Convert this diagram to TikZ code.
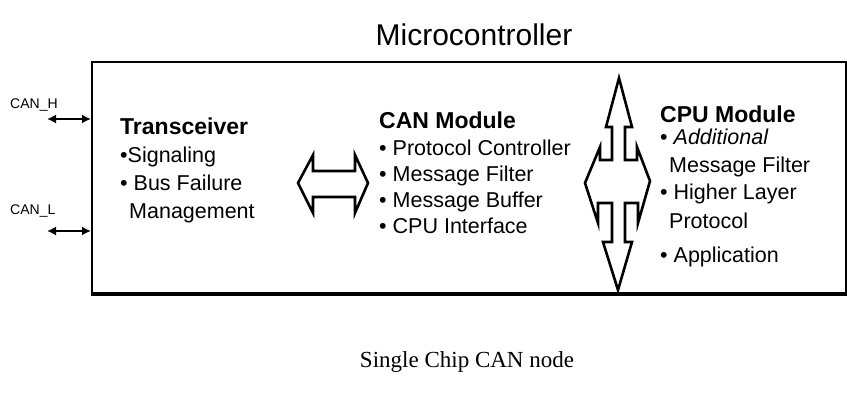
\documentclass[tikz,border=0pt]{standalone}
\usepackage{fontspec}
\setmainfont{Liberation Sans}
\newfontfamily\capfont{Liberation Serif}
\usetikzlibrary{arrows.meta}
\begin{document}
\begin{tikzpicture}[x=1pt,y=-1pt,
  txt/.style={anchor=base west, inner sep=0pt, font=\fontsize{21.5}{26}\selectfont},
  head/.style={anchor=base west, inner sep=0pt, font=\fontsize{23}{28}\selectfont\bfseries},
  sig/.style={anchor=base west, inner sep=0pt, font=\fontsize{14}{16}\selectfont},
  bus/.style={line width=2pt, {Latex[length=9pt,width=9pt]}-{Latex[length=9pt,width=9pt]}},
  fat/.style={line width=2.6pt, line join=miter, fill=white}]
\useasboundingbox (0,0) rectangle (847,392);

% title and caption
\node[inner sep=0pt, anchor=base, font=\fontsize{30}{36}\selectfont] (title) at (474,45) {Microcontroller};
\node[inner sep=0pt, anchor=base, font=\capfont\fontsize{23}{28}\selectfont] (caption) at (467,367) {Single Chip CAN node};

% chip outline with heavy bottom edge
\node[draw, line width=2pt, minimum width=754pt, minimum height=231pt, inner sep=0pt] (chip) at (469,177.5) {};
\draw[line width=4.5pt] (chip.south west) -- (chip.south east);

% bus lines
\node[sig] (canh) at (10,108) {CAN\_H};
\node[sig] (canl) at (10,214) {CAN\_L};
\coordinate (hend) at (47,119);
\coordinate (lend) at (47,231);
\draw[bus] (hend) -- (chip.west |- hend);
\draw[bus] (lend) -- (chip.west |- lend);

% transceiver
\node[head] (trx) at (120,134) {Transceiver};
\node[txt] (trx1) at (120,162) {•Signaling};
\node[txt] (trx2) at (120,190) {• Bus Failure};
\node[txt] (trx3) at (129,218) {Management};

% transceiver <-> CAN module
\draw[fat] (298,183) -- (313,155) -- (313,171) -- (355,171) -- (355,155) -- (368,183)
  -- (355,213) -- (355,197) -- (313,197) -- (313,213) -- cycle;

% CAN module
\node[head] (can) at (379,128) {CAN Module};
\node[txt] (can1) at (379,155) {• Protocol Controller};
\node[txt] (can2) at (379,181) {• Message Filter};
\node[txt] (can3) at (379,207) {• Message Buffer};
\node[txt] (can4) at (379,233) {• CPU Interface};

% CAN module <-> CPU module, and to the rest of the system
\draw[fat] (619,78) -- (632,127) -- (625,127) -- (625,160) -- (637,160) -- (637,147)
  -- (650,181) -- (638,223) -- (638,203) -- (625,203) -- (625,242) -- (632,242)
  -- (618,290) -- (603,242) -- (612,242) -- (612,203) -- (598,203) -- (598,223)
  -- (585,183) -- (600,147) -- (600,160) -- (612,160) -- (612,127) -- (606,127) -- cycle;

% CPU module
\node[head] (cpu) at (660,122) {CPU Module};
\node[txt] (cpu1) at (660,144) {• \textit{Additional}};
\node[txt] (cpu2) at (669,172) {Message Filter};
\node[txt] (cpu3) at (660,199) {• Higher Layer};
\node[txt] (cpu4) at (669,228) {Protocol};
\node[txt] (cpu5) at (660,262) {• Application};
\end{tikzpicture}
\end{document}
